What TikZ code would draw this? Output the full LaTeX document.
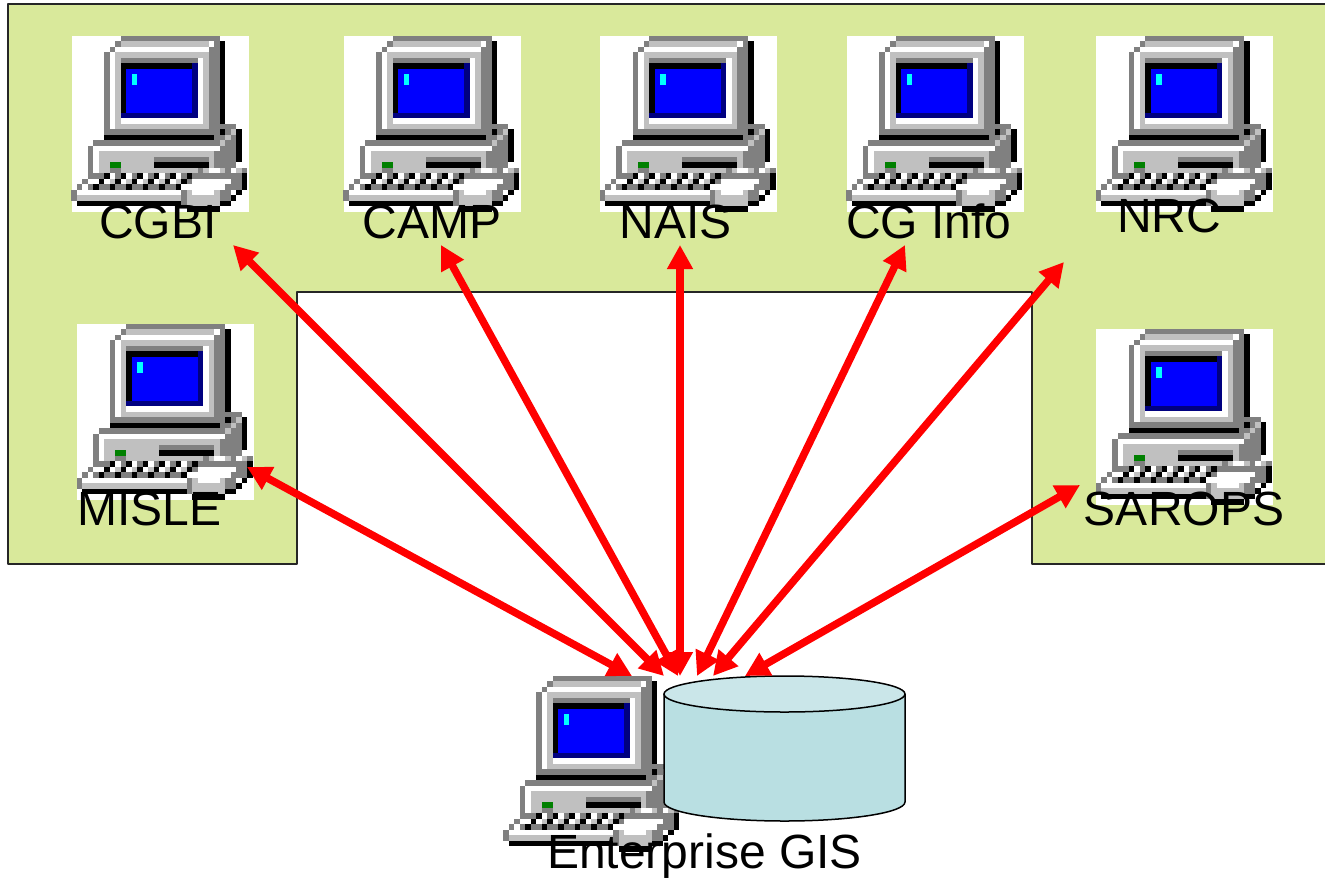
\documentclass[tikz,border=0pt]{standalone}
\usepackage{fontspec}
\setmainfont{Liberation Sans}
\usetikzlibrary{arrows.meta}
\definecolor{panelgreen}{HTML}{D9E99B}
\definecolor{cylbody}{HTML}{B9DFE2}
\definecolor{cyltop}{HTML}{CAE6E9}
\definecolor{pg}{HTML}{808080}
\definecolor{pl}{HTML}{C0C0C0}
\definecolor{pn}{HTML}{000080}
\definecolor{pb}{HTML}{0000FF}
\definecolor{pc}{HTML}{00FFFF}
\definecolor{pv}{HTML}{008000}
\newcommand{\ipx}[5]{\fill[#1] (#2,#3) rectangle (#4,#5);}
\tikzset{
  computer/.pic={
    \begin{scope}[x=5.5pt,y=-5.5pt]
    % monitor
    \ipx{pg}{9}{0}{27}{1}\ipx{pg}{8}{1}{9}{2}\ipx{pg}{7}{2}{8}{3}\ipx{pg}{6}{3}{7}{18}
    \ipx{pl}{9}{1}{25}{2}\ipx{white}{25}{1}{26}{2}\ipx{pg}{26}{1}{27}{2}
    \ipx{white}{8}{2}{25}{3}\ipx{white}{7}{3}{8}{17}
    \ipx{pl}{8}{3}{25}{17}
    \ipx{pg}{25}{2}{27}{17}\ipx{black}{27}{1}{28}{18}
    \ipx{pg}{9}{4}{23}{5}\ipx{white}{23}{4}{24}{16}\ipx{white}{9}{15}{24}{16}
    \ipx{black}{9}{5}{22}{6}\ipx{black}{9}{5}{10}{14}\ipx{pn}{22}{5}{23}{15}\ipx{pn}{9}{14}{23}{15}
    \ipx{pb}{10}{6}{22}{14}\ipx{pc}{11}{7}{12}{9}
    \ipx{pg}{6}{17}{26}{18}\ipx{black}{6}{18}{26}{19}\ipx{black}{26}{17}{27}{18}
    % base
    \ipx{pg}{27}{16}{30}{17}\ipx{pg}{26}{17}{30}{25}
    \ipx{black}{30}{17}{31}{23}\ipx{black}{27}{17}{28}{18}
    \ipx{pl}{29}{17}{30}{18}\ipx{pl}{28}{18}{29}{19}\ipx{pl}{27}{19}{28}{20}
    \ipx{pg}{4}{19}{27}{20}\ipx{pg}{3}{20}{4}{25}
    \ipx{white}{4}{20}{27}{21}\ipx{white}{4}{21}{5}{25}
    \ipx{pl}{5}{21}{26}{25}
    \ipx{pg}{15}{22}{25}{23}\ipx{black}{15}{23}{25}{24}\ipx{pv}{7}{23}{9}{24}\ipx{pg}{7}{24}{9}{25}
    \ipx{pg}{23}{24}{24}{25}\ipx{pl}{24}{24}{25}{25}\ipx{white}{25}{24}{27}{25}\ipx{pl}{27}{24}{28}{25}\ipx{pg}{28}{24}{29}{25}\ipx{white}{29}{24}{30}{25}\ipx{pl}{30}{24}{31}{25}\ipx{pg}{31}{24}{32}{25}
    % keyboard
    \ipx{pg}{3}{25}{22}{26}
    \foreach \c in {6,9,12,15,18,21}{\ipx{black}{\c}{25}{\c+1}{26}}
    \foreach \c in {7,10,13,16,19}{\ipx{white}{\c}{25}{\c+1}{26}}
    \ipx{pg}{2}{26}{3}{27}\ipx{white}{3}{26}{21}{27}
    \foreach \c in {5,8,11,14,17,20}{\ipx{black}{\c}{26}{\c+1}{27}}
    \foreach \c in {7,10,13,16,19}{\ipx{pl}{\c}{26}{\c+1}{27}}
    \ipx{pg}{1}{27}{2}{28}\ipx{white}{2}{27}{3}{28}\ipx{pg}{3}{27}{20}{28}
    \foreach \c in {4,7,10,13,16,19}{\ipx{black}{\c}{27}{\c+1}{28}}
    \ipx{pg}{0}{28}{1}{30}\ipx{white}{1}{28}{21}{29}\ipx{pl}{1}{29}{21}{30}
    \ipx{black}{1}{30}{20}{31}
    % mouse
    \ipx{pg}{21}{25}{31}{26}\ipx{black}{21}{25}{22}{26}\ipx{pg}{21}{26}{31}{28}\ipx{pg}{20}{28}{29}{30}\ipx{pg}{20}{30}{27}{31}
    \ipx{white}{22}{26}{29}{27}\ipx{white}{20}{27}{28}{28}\ipx{white}{22}{28}{26}{29}
    \ipx{pl}{21}{28}{22}{29}\ipx{pl}{26}{28}{27}{29}\ipx{pl}{21}{29}{27}{31}
    \ipx{black}{31}{25}{32}{28}\ipx{black}{30}{28}{31}{29}\ipx{black}{29}{29}{30}{30}
    \ipx{black}{27}{30}{29}{31}\ipx{black}{21}{31}{27}{32}
    \end{scope}
  },
  iconbox/.style={fill=white,inner sep=0pt,minimum width=177pt,minimum height=176pt},
  lbl/.style={anchor=base,inner sep=0pt,font=\fontsize{48}{50}\selectfont},
  link/.style={draw=red,line width=7.5pt,{Triangle[length=24pt,width=24.5pt]}-{Triangle[length=24pt,width=24.5pt]}},
  panel/.style={draw=black!85,line width=1.5pt,fill=panelgreen,line join=round}
}
\begin{document}
\begin{tikzpicture}[x=1pt,y=-1pt]
\useasboundingbox (0,0) rectangle (1325,879);
\fill[white] (0,0) rectangle (1325,879);
\draw[panel] (8,4) -- (1327,4) -- (1327,564) -- (1032,564) -- (1032,292) -- (297,292) -- (297,564) -- (8,564) -- cycle;
% computers
\node[iconbox] (cgbi) at (160,124) {};
\node[iconbox] (camp) at (432,124) {};
\node[iconbox] (nais) at (688.5,124) {};
\node[iconbox] (cginfo) at (935,124) {};
\node[iconbox] (nrc) at (1184.5,124) {};
\node[iconbox] (misle) at (165.5,412) {};
\node[iconbox] (sarops) at (1184.5,417) {};
\node[iconbox] (gis) at (592,764) {};
\foreach \n in {cgbi,camp,nais,cginfo,nrc,misle,sarops,gis}{\pic at (\n.north west) {computer};}
% database
\fill[cylbody] (664,694) -- (664,802) arc[start angle=180,end angle=360,x radius=120.5pt,y radius=19pt] -- (905,694) -- cycle;
\draw[line width=1.5pt] (664,694) -- (664,802) arc[start angle=180,end angle=360,x radius=120.5pt,y radius=19pt] -- (905,694);
\coordinate (gisdb) at (784.5,694);
\filldraw[fill=cyltop,draw=black,line width=1.5pt] (gisdb) ellipse[x radius=120.5pt,y radius=18pt];
% labels
\node[lbl] (tcgbi) at (158,238) {CGBI};
\node[lbl] (tcamp) at (432,238) {CAMP};
\node[lbl] (tnais) at (675.5,238) {NAIS};
\node[lbl] (tcginfo) at (929,238) {CG Info};
\node[lbl] (tnrc) at (1169,232) {NRC};
\node[lbl] (tmisle) at (149.5,525) {MISLE};
\node[lbl] (tsarops) at (1184,525) {SAROPS};
\node[lbl] (tgis) at (704.5,868) {Enterprise GIS};
% connector ends
\coordinate (ecgbi) at (233,245);
\coordinate (ecamp) at (441,245);
\coordinate (enais) at (680,245);
\coordinate (ecginfo) at (905,245);
\coordinate (enrc) at (1064,262);
\coordinate (emisle) at (247,467);
\coordinate (esarops) at (1080,485);
\coordinate (hmisle) at (632,676);
\coordinate (hcgbi) at (664,676);
\coordinate (hcamp) at (678,676);
\coordinate (hnais) at (680,676);
\coordinate (hcginfo) at (697,676);
\coordinate (hnrc) at (713,676);
\coordinate (hsarops) at (745,676);
\draw[link] (emisle) -- (hmisle);
\draw[link] (ecgbi) -- (hcgbi);
\draw[link] (ecamp) -- (hcamp);
\draw[link] (enais) -- (hnais);
\draw[link] (ecginfo) -- (hcginfo);
\draw[link] (enrc) -- (hnrc);
\draw[link] (esarops) -- (hsarops);
\end{tikzpicture}
\end{document}
